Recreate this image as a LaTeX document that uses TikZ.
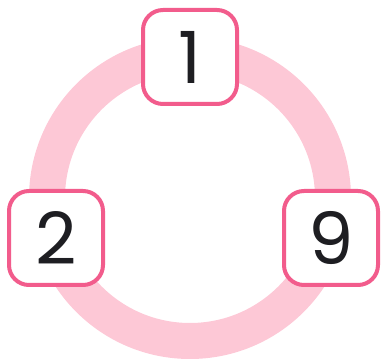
\documentclass[tikz,border=0pt]{standalone}
\usepackage{fontspec}
\setmainfont{Poppins}
\definecolor{ringpink}{HTML}{FDC8D6}
\definecolor{boxpink}{HTML}{F25C8C}
\definecolor{digitink}{HTML}{1E1E22}
\begin{document}
\begin{tikzpicture}[x=1pt,y=1pt,
  numbox/.style={draw=boxpink, line width=4pt, fill=white, rounded corners=20pt,
    minimum size=94pt, inner sep=0pt, text=digitink, text depth=0pt,
    font=\fontsize{72}{72}\selectfont}]
  \useasboundingbox (0,0) rectangle (381,359);
  \coordinate (c) at (190,161);
  \draw[ringpink, line width=36pt] (c) circle (143);
  \node[numbox] (top) at (190,302) {1};
  \node[numbox] (left) at (56,121) {2};
  \node[numbox] (right) at (331,121) {9};
\end{tikzpicture}
\end{document}
